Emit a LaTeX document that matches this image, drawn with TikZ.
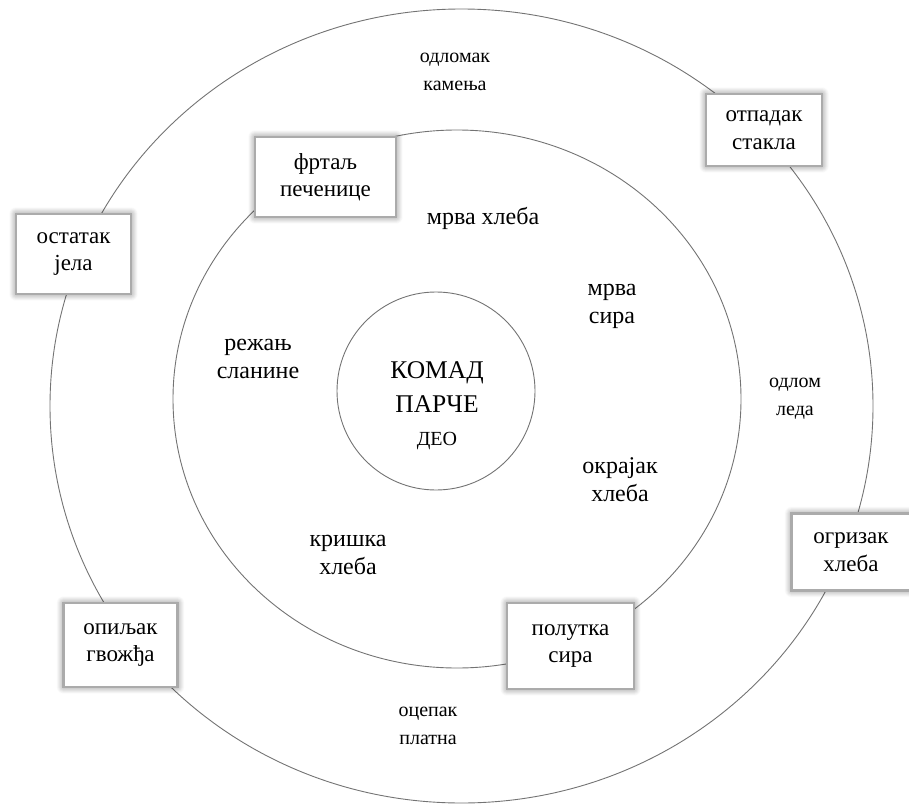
\documentclass[tikz,border=0pt]{standalone}
\usepackage{fontspec}
\setmainfont{Liberation Serif}
\usetikzlibrary{shapes.geometric,shadows.blur}
\tikzset{
  ring/.style={ellipse, draw=black!55, line width=0.9pt, inner sep=0pt},
  boxed/.style={draw=black!33, line width=2.8pt, fill=white, align=center,
    font=\fontsize{23}{27.5}\selectfont, inner sep=0pt,
    blur shadow={shadow xshift=0pt, shadow yshift=0pt, shadow blur radius=7pt, shadow opacity=50, shadow blur steps=14}},
  lbl/.style={align=center, font=\fontsize{24}{28}\selectfont, inner sep=0pt},
  slbl/.style={align=center, font=\fontsize{20}{28}\selectfont, inner sep=0pt},
}
\begin{document}
\begin{tikzpicture}[x=1pt,y=-1pt]
\useasboundingbox (0,0) rectangle (909,805);
% rings
\node[ring, minimum width=823pt, minimum height=794pt] (outer) at (461.5,406) {};
\node[ring, minimum width=568pt, minimum height=538pt] (middle) at (457,399) {};
\node[ring, minimum width=198pt, minimum height=198pt] (core) at (436,391) {};
% centre text
\node[align=center, font=\fontsize{25.5}{34}\selectfont, inner sep=0pt] (komad) at (437,387) {КОМАД\\ПАРЧЕ};
\node[slbl] (deo) at (437,441) {ДЕО};
% middle ring labels
\node[lbl] (mrvah) at (483,218) {мрва хлеба};
\node[lbl] (mrvas) at (612,306) {мрва\\сира};
\node[lbl] (rezanj) at (258,359) {режањ\\сланине};
\node[lbl] (okrajak) at (620,480) {окрајак\\хлеба};
\node[lbl] (kriska) at (348,555) {кришка\\хлеба};
% outer ring labels
\node[slbl] (odlomak) at (455,72) {одломак\\камења};
\node[slbl] (odlom) at (795,399) {одлом\\леда};
\node[slbl] (ocepak) at (428,726) {оцепак\\платна};
% boxes
\node[boxed, minimum width=141pt, minimum height=80pt] (frtalj) at (325.5,177) {фртаљ\\печенице};
\node[boxed, minimum width=116pt, minimum height=72pt] (otpadak) at (764,130) {отпадак\\стакла};
\node[boxed, minimum width=115pt, minimum height=80pt] (ostatak) at (73.5,254) {остатак\\јела};
\node[boxed, minimum width=119pt, minimum height=77pt] (ogrizak) at (851,552) {огризак\\хлеба};
\node[boxed, minimum width=127pt, minimum height=86pt] (polutka) at (570.5,646) {полутка\\сира};
\node[boxed, minimum width=114pt, minimum height=84pt] (opiljak) at (120.5,645) {опиљак\\гвожђа};
\end{tikzpicture}
\end{document}
